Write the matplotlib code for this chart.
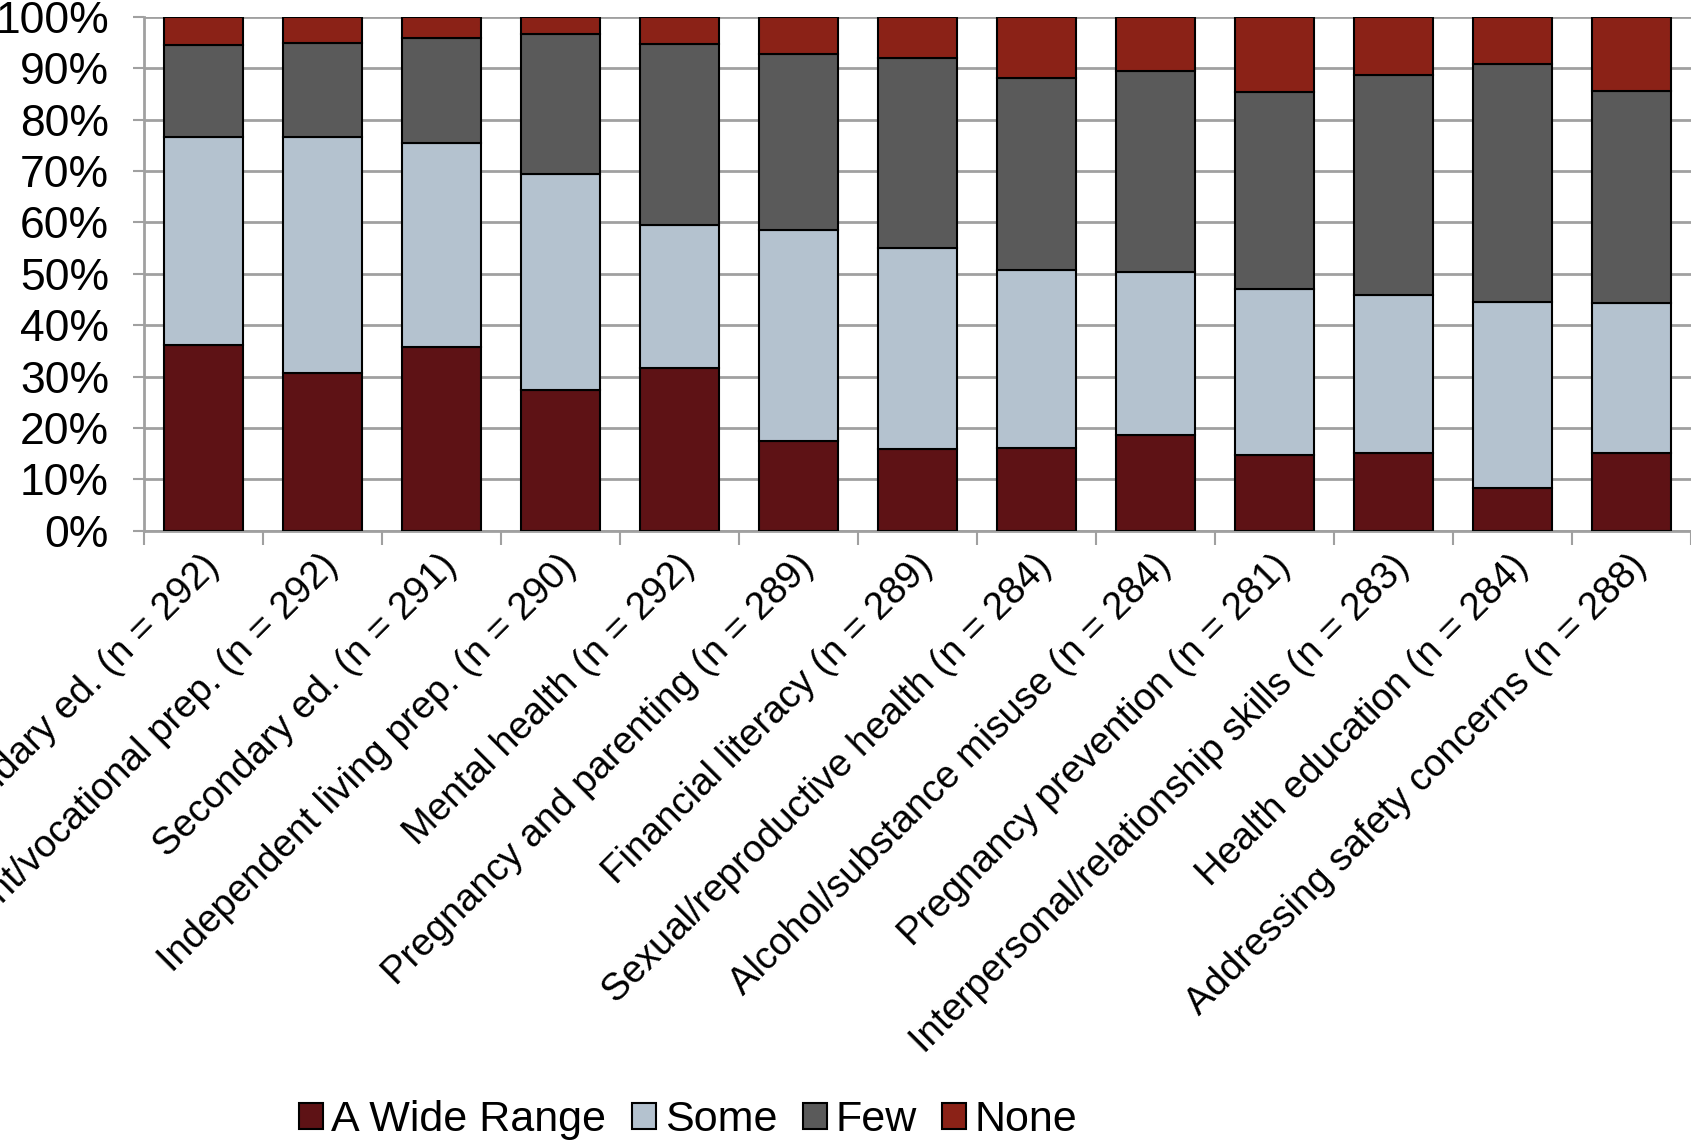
import matplotlib.pyplot as plt
import numpy as np

plt.rcParams['font.family'] = ['Liberation Sans', 'DejaVu Sans']

categories = ['Postsecondary ed. (n = 292)', 'Employment/vocational prep. (n = 292)',
              'Secondary ed. (n = 291)', 'Independent living prep. (n = 290)',
              'Mental health (n = 292)', 'Pregnancy and parenting (n = 289)',
              'Financial literacy (n = 289)', 'Sexual/reproductive health (n = 284)',
              'Alcohol/substance misuse (n = 284)', 'Pregnancy prevention (n = 281)',
              'Interpersonal/relationship skills (n = 283)', 'Health education (n = 284)',
              'Addressing safety concerns (n = 288)']

wide_range = [36.2, 30.6, 35.7, 27.4, 31.6, 17.5, 15.8, 16.0, 18.6, 14.8, 15.2, 8.3, 15.2]
some = [40.4, 46.0, 39.8, 42.0, 28.0, 41.1, 39.2, 34.8, 31.8, 32.3, 30.6, 36.2, 29.1]
few = [17.9, 18.4, 20.5, 27.4, 35.1, 34.3, 37.0, 37.4, 39.1, 38.3, 43.0, 46.4, 41.3]
none = [5.5, 5.0, 4.0, 3.2, 5.3, 7.1, 8.0, 11.8, 10.5, 14.6, 11.2, 9.1, 14.4]

series_names = ['A Wide Range', 'Some', 'Few', 'None']
colors = ['#5E1215', '#B4C2CF', '#5A5A5A', '#8B2217']

fig = plt.figure(figsize=(16.91, 11.41), dpi=100)
ax = fig.add_axes([0.085, 0.535, 0.915, 0.45])

x = np.arange(len(categories))
bottom = np.zeros(len(categories))
for vals, name, col in zip([wide_range, some, few, none], series_names, colors):
    ax.bar(x, vals, width=0.66, bottom=bottom, color=col, edgecolor='black',
           linewidth=1.5, label=name, zorder=3)
    bottom += np.array(vals)

ax.set_xlim(-0.5, len(categories) - 0.5)
ax.set_ylim(0, 100)
ax.set_yticks(np.arange(0, 101, 10))
ax.set_yticklabels([f'{v}%' for v in range(0, 101, 10)], fontsize=32)
ax.yaxis.grid(True, color='#A0A0A0', linewidth=2, zorder=0)
ax.tick_params(axis='y', length=8, width=1.5, color='#A0A0A0', pad=17)

# ticks between categories, labels at category centres
ax.set_xticks(np.arange(-0.5, len(categories), 1.0))
ax.set_xticklabels([])
ax.tick_params(axis='x', length=10, width=1.5, color='#A0A0A0', direction='out')
for i, lab in enumerate(categories):
    ax.annotate(lab, xy=(i, 0), xycoords=('data', 'axes fraction'),
                xytext=(10, -30), textcoords='offset pixels',
                rotation=45, ha='right', va='center', rotation_mode='anchor',
                fontsize=27.5, annotation_clip=False)

for s in ['top', 'right']:
    ax.spines[s].set_visible(False)
for s in ['left', 'bottom']:
    ax.spines[s].set_color('#A0A0A0')
    ax.spines[s].set_linewidth(2)

fig.legend(loc='center', bbox_to_anchor=(0.407, 0.018), ncol=4, frameon=False,
           fontsize=31, handlelength=0.55, handleheight=0.55, handletextpad=0.2,
           columnspacing=0.6)

fig.savefig('out.png', dpi=100)
